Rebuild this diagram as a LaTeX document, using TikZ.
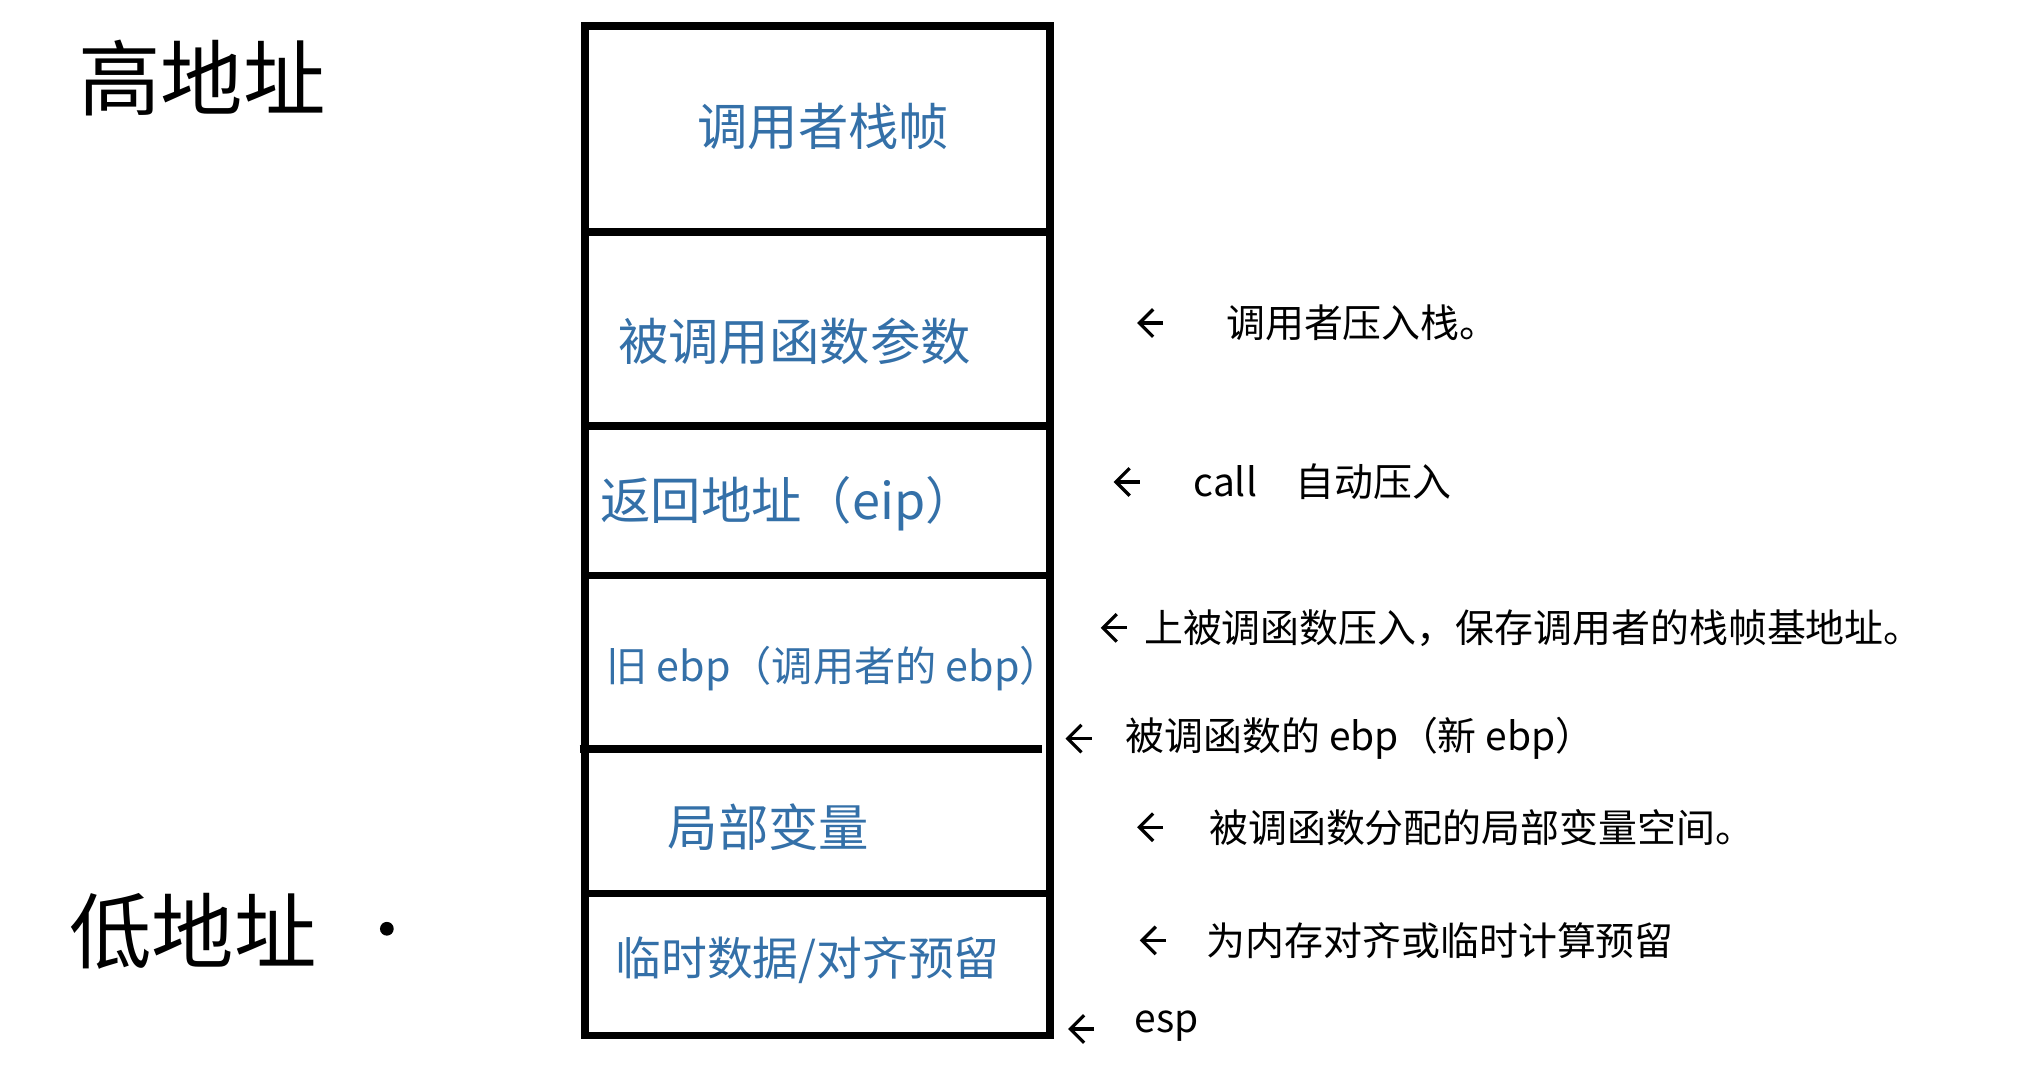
\documentclass[tikz,border=0pt]{standalone}
\usepackage{fontspec}
\setmainfont{Noto Sans CJK SC}
\usetikzlibrary{arrows.meta,positioning}
\definecolor{inkblue}{RGB}{52,112,168}
\tikzstyle{cell} = [text=inkblue, font=\fontsize{11}{13}\selectfont, anchor=center]
\tikzstyle{note} = [font=\fontsize{8.5}{10}\selectfont, anchor=west, inner sep=1pt]
\tikzstyle{addr} = [font=\fontsize{18}{22}\selectfont]

\begin{document}
\begin{tikzpicture}[x=0.01cm,y=-0.01cm,line width=1.6pt,>={Straight Barb[length=3pt]}]
  \useasboundingbox (0,0) rectangle (1550,829);

  % stack frame
  \draw (449,20) rectangle (806,795);
  \foreach \yy in {178,327,442,686}
    \draw (449,\yy) -- (806,\yy);
  \draw (445,575) -- (800,575);

  \node[addr] (hi) at (155,60) {高地址};
  \node[addr] (lo) at (148,715) {低地址};
  \fill (297,713) circle (1.5pt);

  \node[cell] (c1) at (632,97)  {调用者栈帧};
  \node[cell] (c2) at (610,262) {被调用函数参数};
  \node[cell] (c3) at (605,387) {返回地址（eip）};
  \node[cell, font=\fontsize{9}{11}\selectfont] (c4) at (640,513) {旧 ebp（调用者的 ebp）};
  \node[cell] (c5) at (590,635) {局部变量};
  \node[cell, font=\fontsize{10}{12}\selectfont] (c6) at (620,737) {临时数据/对齐预留};

  \node[note] (n1) at (935,248) {调用者压入栈。};
  \node[note] (n2) at (910,370) {call\quad 自动压入};
  \node[note] (n3) at (872,482) {上被调函数压入，保存调用者的栈帧基地址。};
  \node[note] (n4) at (858,567) {被调函数的 ebp（新 ebp）};
  \node[note] (n5) at (922,635) {被调函数分配的局部变量空间。};
  \node[note] (n6) at (920,722) {为内存对齐或临时计算预留};
  \node[note] (n7) at (865,788) {esp};

  \coordinate (a1) at (873,248);
  \coordinate (a2) at (855,370);
  \coordinate (a3) at (845,482);
  \coordinate (a4) at (818,567);
  \coordinate (a5) at (873,635);
  \coordinate (a6) at (875,722);
  \coordinate (a7) at (820,790);

  \foreach \i in {1,...,7}
    \draw[->,line width=0.7pt] ([xshift=2mm]a\i) -- (a\i);
\end{tikzpicture}
\end{document}
